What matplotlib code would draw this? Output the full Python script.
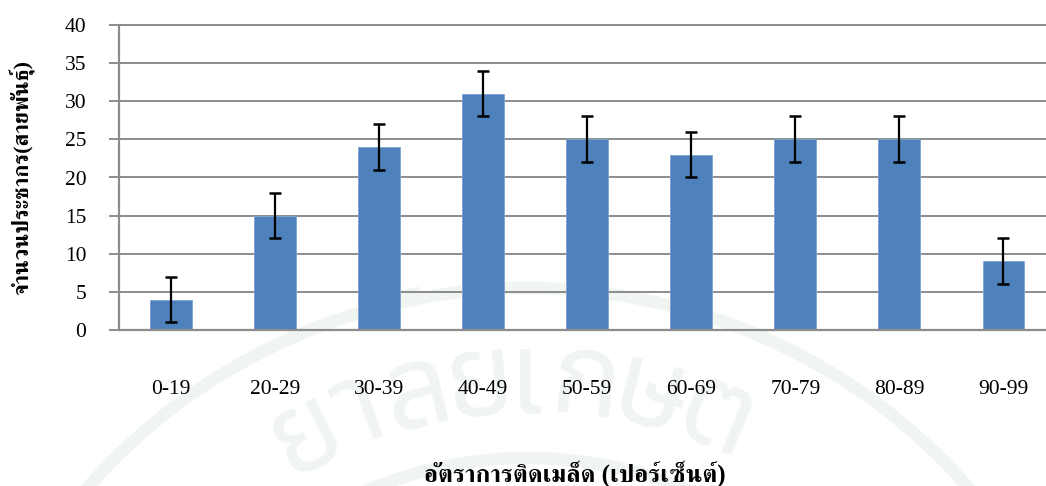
import matplotlib
matplotlib.use("Agg")
import numpy as np
import matplotlib.pyplot as plt
from matplotlib.patches import Circle

categories = ['0-19', '20-29', '30-39', '40-49', '50-59', '60-69', '70-79', '80-89', '90-99']
values = [4, 15, 24, 31, 25, 23, 25, 25, 9]
err = [3, 3, 3, 3, 3, 3, 3, 3, 3]
yticks = [0, 5, 10, 15, 20, 25, 30, 35, 40]
xlabel = 'อัตราการติดเมล็ด (เปอร์เซ็นต์)'
ylabel = 'จำนวนประชากร(สายพันธุ์)'

# faint university seal behind the chart
seal_letters = ['ย', 'า', 'ล', 'ั', 'ย', 'เ', 'ก', 'ษ', 'ต']
seal_angles = [-26.8, -20, -13, -11, -5.6, -0.2, 6.7, 14.4, 22.5]
seal_radii = [492, 492, 492, 538, 492, 492, 492, 492, 492]
seal_color = '#f1f5f1'

plt.rcParams['font.family'] = ['Liberation Serif', 'FreeSerif', 'DejaVu Sans']

fig = plt.figure(figsize=(10.46, 4.86), dpi=100)

bg = fig.add_axes([0, 0, 1, 1], zorder=0)
bg.set_xlim(0, 1046)
bg.set_ylim(486, 0)
bg.axis('off')
cx, cy = 528, 874
bg.add_patch(Circle((cx, cy), 586, fill=False, edgecolor=seal_color, linewidth=9))
bg.add_patch(Circle((cx, cy), 416, fill=False, edgecolor=seal_color, linewidth=9))
for ch, ang, r in zip(seal_letters, seal_angles, seal_radii):
    a = np.radians(ang)
    bg.text(cx + r * np.sin(a), cy - r * np.cos(a), ch, rotation=-ang, rotation_mode='anchor',
            family=['Noto Sans Thai'], fontweight='bold', fontsize=84, color=seal_color, ha='center', va='center')

ax = fig.add_axes([119 / 1046, 1 - 330 / 486, (1046 - 119) / 1046, (330 - 25) / 486], zorder=1)
ax.patch.set_alpha(0)

x = range(len(categories))
ax.bar(x, values, width=0.4, color='#4f81bd', edgecolor='#7ea3d2', linewidth=0.6, zorder=2)
ax.errorbar(x, values, yerr=err, fmt='none', ecolor='black', elinewidth=1.6, capsize=4.5, capthick=1.8, zorder=3)

ax.set_xlim(-0.5, 8.41)
ax.set_ylim(0, 40)
ax.set_yticks(yticks)
ax.set_xticks(list(x))
ax.set_xticklabels(categories)
ax.grid(axis='y', color='#8c8c8c', linewidth=1.4, zorder=1, clip_on=False)
ax.set_axisbelow(True)
ax.tick_params(axis='x', length=0, pad=36, labelsize=15.5)
ax.tick_params(axis='y', length=7.5, width=1.4, color='#8c8c8c', labelsize=15.5, pad=16)

for s in ['top', 'right']:
    ax.spines[s].set_visible(False)
ax.spines['left'].set_color('#8c8c8c')
ax.spines['left'].set_linewidth(1.6)
ax.spines['bottom'].set_color('#8c8c8c')
ax.spines['bottom'].set_linewidth(1.6)

fig.text(575 / 1046, 1 - 474 / 486, xlabel, fontsize=18, fontweight='bold', ha='center', va='center')
fig.text(22 / 1046, 1 - 177 / 486, ylabel, fontsize=16, fontweight='bold', rotation=90, ha='center', va='center')

fig.savefig('out.png', dpi=100)
